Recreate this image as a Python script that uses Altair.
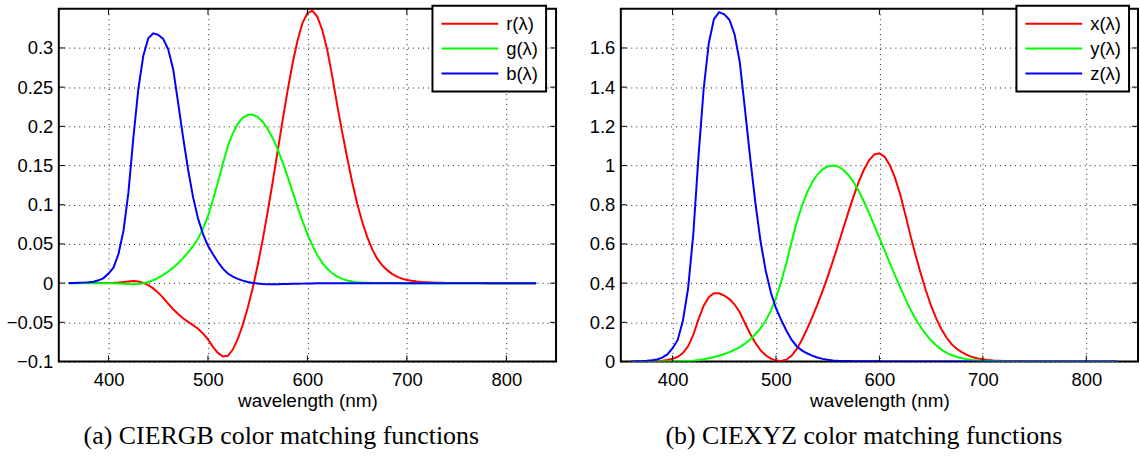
import altair as alt
import pandas as pd

# wavelength samples (nm), 360..830 in 5 nm steps
wavelength = list(range(360, 835, 5))

# CIE RGB colour matching functions
r_bar = [0.00000, 0.00001, 0.00001, 0.00002, 0.00003, 0.00005, 0.00010, 0.00017, 0.00030, 0.00047,
         0.00084, 0.00139, 0.00211, 0.00266, 0.00218, 0.00036, -0.00261, -0.00673, -0.01213, -0.01874,
         -0.02608, -0.03324, -0.03933, -0.04471, -0.04939, -0.05364, -0.05814, -0.06414, -0.07173, -0.08120,
         -0.08901, -0.09356, -0.09264, -0.08473, -0.07101, -0.05316, -0.03152, -0.00613, 0.02279, 0.05514,
         0.09060, 0.12840, 0.16768, 0.20715, 0.24526, 0.27989, 0.30928, 0.33184, 0.34429, 0.34756,
         0.33971, 0.32265, 0.29708, 0.26348, 0.22677, 0.19233, 0.15968, 0.12905, 0.10167, 0.07857,
         0.05932, 0.04366, 0.03149, 0.02294, 0.01687, 0.01187, 0.00819, 0.00572, 0.00410, 0.00291,
         0.00210, 0.00148, 0.00105, 0.00074, 0.00052, 0.00036, 0.00025, 0.00017, 0.00012, 0.00008,
         0.00006, 0.00004, 0.00003, 0.00001, 0.00000, 0.0, 0.0, 0.0, 0.0, 0.0,
         0.0, 0.0, 0.0, 0.0, 0.0]
g_bar = [0.0, 0.0, 0.0, -0.00001, -0.00001, -0.00002, -0.00004, -0.00007, -0.00014, -0.00022,
         -0.00041, -0.00070, -0.00110, -0.00143, -0.00119, -0.00021, 0.00149, 0.00379, 0.00678, 0.01046,
         0.01485, 0.01977, 0.02538, 0.03183, 0.03914, 0.04713, 0.05689, 0.06948, 0.08536, 0.10593,
         0.12860, 0.15262, 0.17468, 0.19113, 0.20317, 0.21083, 0.21466, 0.21487, 0.21178, 0.20588,
         0.19702, 0.18522, 0.17087, 0.15429, 0.13610, 0.11686, 0.09754, 0.07909, 0.06246, 0.04776,
         0.03557, 0.02583, 0.01828, 0.01253, 0.00833, 0.00537, 0.00334, 0.00199, 0.00116, 0.00066,
         0.00037, 0.00021, 0.00011, 0.00006, 0.00003, 0.00001, 0.00001, 0.0, 0.0, 0.0,
         0.0, 0.0, 0.0, 0.0, 0.0, 0.0, 0.0, 0.0, 0.0, 0.0,
         0.0, 0.0, 0.0, 0.0, 0.0, 0.0, 0.0, 0.0, 0.0, 0.0,
         0.0, 0.0, 0.0, 0.0, 0.0]
b_bar = [0.00012, 0.00020, 0.00036, 0.00064, 0.00117, 0.00189, 0.00359, 0.00647, 0.01214, 0.01969,
         0.03707, 0.06637, 0.11541, 0.18575, 0.24769, 0.29012, 0.31228, 0.31860, 0.31670, 0.31166,
         0.29821, 0.27295, 0.22991, 0.18592, 0.14494, 0.10968, 0.08257, 0.06246, 0.04776, 0.03688,
         0.02698, 0.01842, 0.01221, 0.00830, 0.00549, 0.00320, 0.00146, 0.00023, -0.00058, -0.00105,
         -0.00130, -0.00138, -0.00135, -0.00123, -0.00108, -0.00093, -0.00079, -0.00063, -0.00049, -0.00038,
         -0.00030, -0.00022, -0.00015, -0.00011, -0.00008, -0.00005, -0.00003, -0.00002, -0.00001, -0.00001,
         0.0, 0.0, 0.0, 0.0, 0.0, 0.0, 0.0, 0.0, 0.0, 0.0,
         0.0, 0.0, 0.0, 0.0, 0.0, 0.0, 0.0, 0.0, 0.0, 0.0,
         0.0, 0.0, 0.0, 0.0, 0.0, 0.0, 0.0, 0.0, 0.0, 0.0,
         0.0, 0.0, 0.0, 0.0, 0.0]

# CIE XYZ colour matching functions
x_bar = [0.000130, 0.000232, 0.000415, 0.000742, 0.001368, 0.002236, 0.004243, 0.007650, 0.014310, 0.023190,
         0.043510, 0.077630, 0.134380, 0.214770, 0.283900, 0.328500, 0.348280, 0.348060, 0.336200, 0.318700,
         0.290800, 0.251100, 0.195360, 0.142100, 0.095640, 0.057950, 0.032010, 0.014700, 0.004900, 0.002400,
         0.009300, 0.029100, 0.063270, 0.109600, 0.165500, 0.225750, 0.290400, 0.359700, 0.433450, 0.512050,
         0.594500, 0.678400, 0.762100, 0.842500, 0.916300, 0.978600, 1.026300, 1.056700, 1.062200, 1.045600,
         1.002600, 0.938400, 0.854450, 0.751400, 0.642400, 0.541900, 0.447900, 0.360800, 0.283500, 0.218700,
         0.164900, 0.121200, 0.087400, 0.063600, 0.046770, 0.032900, 0.022700, 0.015840, 0.011359, 0.008111,
         0.005790, 0.004109, 0.002899, 0.002049, 0.001440, 0.001000, 0.000690, 0.000476, 0.000332, 0.000235,
         0.000166, 0.000117, 0.000083, 0.000059, 0.000042, 0.000030, 0.000021, 0.000015, 0.000011, 0.000007,
         0.000005, 0.000004, 0.000003, 0.000002, 0.000001]
y_bar = [0.000004, 0.000007, 0.000012, 0.000022, 0.000039, 0.000064, 0.000120, 0.000217, 0.000396, 0.000640,
         0.001210, 0.002180, 0.004000, 0.007300, 0.011600, 0.016840, 0.023000, 0.029800, 0.038000, 0.048000,
         0.060000, 0.073900, 0.090980, 0.112600, 0.139020, 0.169300, 0.208020, 0.258600, 0.323000, 0.407300,
         0.503000, 0.608200, 0.710000, 0.793200, 0.862000, 0.914850, 0.954000, 0.980300, 0.994950, 1.000000,
         0.995000, 0.978600, 0.952000, 0.915400, 0.870000, 0.816300, 0.757000, 0.694900, 0.631000, 0.566800,
         0.503000, 0.441200, 0.381000, 0.321000, 0.265000, 0.217000, 0.175000, 0.138200, 0.107000, 0.081600,
         0.061000, 0.044580, 0.032000, 0.023200, 0.017000, 0.011920, 0.008210, 0.005723, 0.004102, 0.002929,
         0.002091, 0.001484, 0.001047, 0.000740, 0.000520, 0.000361, 0.000249, 0.000172, 0.000120, 0.000085,
         0.000060, 0.000042, 0.000030, 0.000021, 0.000015, 0.000011, 0.000008, 0.000005, 0.000004, 0.000003,
         0.000002, 0.000001, 0.000001, 0.000001, 0.000000]
z_bar = [0.000606, 0.001086, 0.001946, 0.003486, 0.006450, 0.010550, 0.020050, 0.036210, 0.067850, 0.110200,
         0.207400, 0.371300, 0.645600, 1.039050, 1.385600, 1.622960, 1.747060, 1.782600, 1.772110, 1.744100,
         1.669200, 1.528100, 1.287640, 1.041900, 0.812950, 0.616200, 0.465180, 0.353300, 0.272000, 0.212300,
         0.158200, 0.111700, 0.078250, 0.057250, 0.042160, 0.029840, 0.020300, 0.013400, 0.008750, 0.005750,
         0.003900, 0.002750, 0.002100, 0.001800, 0.001650, 0.001400, 0.001100, 0.001000, 0.000800, 0.000600,
         0.000340, 0.000240, 0.000190, 0.000100, 0.000050, 0.000030, 0.000020, 0.000010, 0.0, 0.0,
         0.0, 0.0, 0.0, 0.0, 0.0, 0.0, 0.0, 0.0, 0.0, 0.0,
         0.0, 0.0, 0.0, 0.0, 0.0, 0.0, 0.0, 0.0, 0.0, 0.0,
         0.0, 0.0, 0.0, 0.0, 0.0, 0.0, 0.0, 0.0, 0.0, 0.0,
         0.0, 0.0, 0.0, 0.0, 0.0]

rgb_names = ["r(λ)", "g(λ)", "b(λ)"]
xyz_names = ["x(λ)", "y(λ)", "z(λ)"]
x_ticks = [400, 500, 600, 700, 800]
rgb_y_ticks = [-0.1, -0.05, 0, 0.05, 0.1, 0.15, 0.2, 0.25, 0.3]
xyz_y_ticks = [0, 0.2, 0.4, 0.6, 0.8, 1, 1.2, 1.4, 1.6]
captions = ["(a) CIERGB color matching functions", "(b) CIEXYZ color matching functions"]

COLORS = ["#ff0000", "#00ff00", "#0000ff"]
FONT = "Liberation Sans"


def long_df(names, series):
    rows = []
    for name, vals in zip(names, series):
        for w, v in zip(wavelength, vals):
            rows.append({"wl": w, "v": v, "s": name})
    return pd.DataFrame(rows)


def panel(df, names, ydom, yvals, caption, W, H, legend_x):
    xs = alt.Scale(domain=[350, 850], nice=False, zero=False)
    ys = alt.Scale(domain=ydom, nice=False, zero=False)
    xax = alt.Axis(values=x_ticks, title="wavelength (nm)", format="d", labelPadding=9)
    yax = alt.Axis(values=yvals, title=None, format="~g", labelPadding=6)
    lines = alt.Chart(df).mark_line(strokeWidth=2, clip=True).encode(
        x=alt.X("wl:Q", scale=xs, axis=xax),
        y=alt.Y("v:Q", scale=ys, axis=yax),
        color=alt.Color("s:N", sort=names, scale=alt.Scale(domain=names, range=COLORS),
                        legend=alt.Legend(title=None, orient="none", legendX=legend_x, legendY=-3)),
    )
    tx = pd.DataFrame({"wl": x_ticks})
    ty = pd.DataFrame({"v": yvals})
    bot = alt.Chart(tx).mark_rule(color="black", strokeWidth=1).encode(
        x=alt.X("wl:Q", scale=xs, axis=xax), y=alt.value(H), y2=alt.value(H - 6))
    top = alt.Chart(tx).mark_rule(color="black", strokeWidth=1).encode(
        x=alt.X("wl:Q", scale=xs, axis=xax), y=alt.value(0), y2=alt.value(6))
    left = alt.Chart(ty).mark_rule(color="black", strokeWidth=1).encode(
        y=alt.Y("v:Q", scale=ys, axis=yax), x=alt.value(0), x2=alt.value(6))
    right = alt.Chart(ty).mark_rule(color="black", strokeWidth=1).encode(
        y=alt.Y("v:Q", scale=ys, axis=yax), x=alt.value(W - 6), x2=alt.value(W))
    return alt.layer(lines, bot, top, left, right).properties(
        width=W, height=H,
        title=alt.TitleParams(caption, orient="bottom", anchor="middle", frame="bounds"))


p1 = panel(long_df(rgb_names, [r_bar, g_bar, b_bar]), rgb_names, [-0.1, 0.35], rgb_y_ticks,
           captions[0], 499, 354, 375)
p2 = panel(long_df(xyz_names, [x_bar, y_bar, z_bar]), xyz_names, [0, 1.8], xyz_y_ticks,
           captions[1], 519, 354, 397)

chart = alt.hconcat(p1, p2, spacing=30).resolve_scale(
    color="independent", x="independent", y="independent"
).resolve_legend(color="independent").configure(
    padding={"left": 5, "top": 3, "right": 0, "bottom": 0},
    background="white",
).configure_view(
    stroke="black", strokeWidth=2
).configure_axis(
    labelFont=FONT, labelFontSize=18.5, labelColor="black",
    titleFont=FONT, titleFontSize=19, titleFontWeight="normal", titleColor="black", titlePadding=3,
    grid=True, gridColor="black", gridDash=[1, 4], gridWidth=1, gridOpacity=0.9,
    ticks=False, tickSize=0, domain=False,
).configure_legend(
    strokeColor="black", strokeWidth=2, fillColor="white", padding=8, cornerRadius=0,
    labelFont=FONT, labelFontSize=18.5, labelColor="black", labelLimit=200,
    symbolType="stroke", symbolSize=3249, symbolStrokeWidth=2,
    clipHeight=20, rowPadding=5, labelOffset=7,
).configure_title(
    font="Liberation Serif", fontSize=26, fontWeight="normal", color="black", offset=12
)

chart.save("out.html", embed_options={"renderer": "svg", "actions": False})
